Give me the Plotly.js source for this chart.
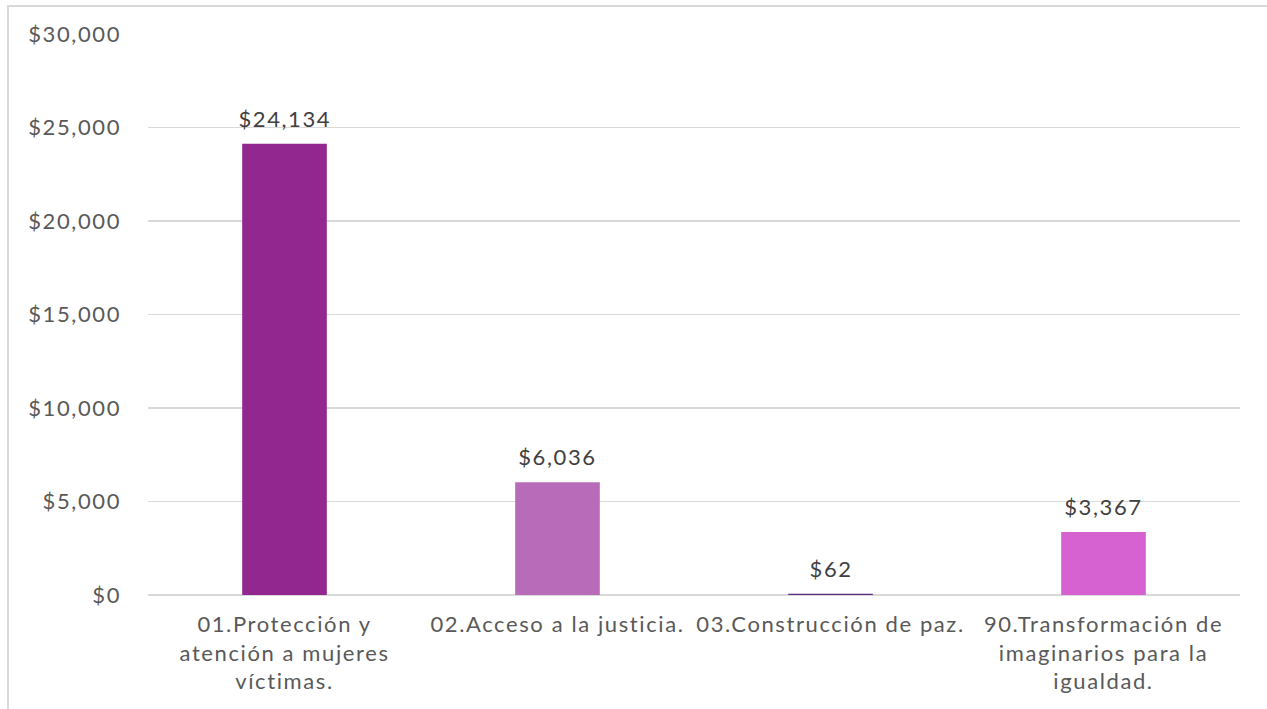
<!DOCTYPE html>
<html>
<head>
<meta charset="utf-8">
<script src="https://cdn.plot.ly/plotly-3.0.1.min.js"></script>
<style>
  html, body { margin: 0; padding: 0; background: #fff; }
  #wrap { position: relative; width: 1267px; height: 709px; overflow: hidden; }
  #frame { position: absolute; left: 7px; top: 5px; width: 1300px; height: 800px;
           border-top: 2px solid #d9d9d9; border-left: 2px solid #d9d9d9; box-sizing: border-box; pointer-events: none; }
  #chart { position: absolute; left: 0; top: 0; width: 1267px; height: 709px; }
  #chart svg text { letter-spacing: 1.6px; }
</style>
</head>
<body>
<div id="wrap">
  <div id="chart"></div>
  <div id="frame"></div>
</div>
<script>
const categories = [
  "01.Protección y<br>atención a mujeres<br>víctimas.",
  "02.Acceso a la justicia.",
  "03.Construcción de paz.",
  "90.Transformación de<br>imaginarios para la<br>igualdad."
];
const values = [24134, 6036, 62, 3367];
const barColors = ["#92278F", "#B86BB8", "#5B2C83", "#D662D2"];

const FONT = "Lato, 'Open Sans', sans-serif";

const trace = {
  type: "bar",
  x: categories,
  y: values,
  marker: { color: barColors },
  hoverinfo: "none"
};

const annotations = categories.map((c, i) => ({
  x: c,
  y: values[i],
  xref: "x",
  yref: "y",
  text: "$" + values[i].toLocaleString("en-US"),
  showarrow: false,
  yanchor: "bottom",
  xanchor: "center",
  yshift: 10,
  font: { family: FONT, size: 22, color: "#404040" }
}));

const layout = {
  width: 1267,
  height: 709,
  margin: { l: 148, r: 27, t: 34, b: 114 },
  paper_bgcolor: "rgba(0,0,0,0)",
  plot_bgcolor: "#ffffff",
  bargap: 0.69,
  showlegend: false,
  font: { family: FONT, size: 22, color: "#595959" },
  annotations: annotations,
  xaxis: {
    showgrid: false,
    showline: false,
    zeroline: false,
    tickfont: { family: FONT, size: 22, color: "#595959" },
    ticks: "",
    ticklabelstandoff: 14,
    automargin: false
  },
  yaxis: {
    range: [0, 30000],
    dtick: 5000,
    tickprefix: "$",
    tickformat: ",",
    showgrid: true,
    gridcolor: "#d9d9d9",
    gridwidth: 1.5,
    zeroline: true,
    zerolinecolor: "#d9d9d9",
    zerolinewidth: 1.5,
    showline: false,
    ticks: "",
    ticklabelstandoff: 26,
    tickfont: { family: FONT, size: 22, color: "#595959" },
    automargin: false
  }
};

Plotly.newPlot("chart", [trace], layout, { displayModeBar: false, staticPlot: true });
</script>
</body>
</html>
